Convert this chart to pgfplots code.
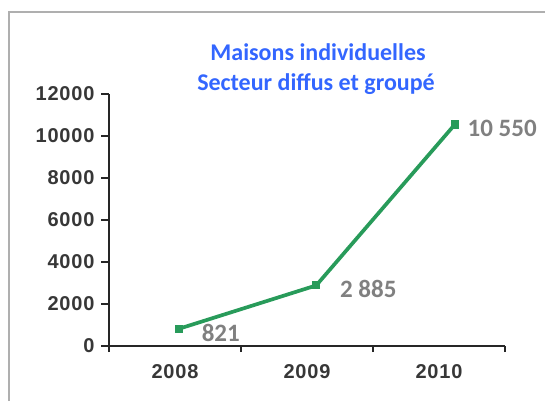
\documentclass[border=0pt]{standalone}
\usepackage{pgfplots}
\pgfplotsset{compat=1.18}
\usepackage{fontspec}
\setmainfont{Liberation Sans}
\newfontfamily\calib{Carlito}
\newfontfamily\tickfont[LetterSpace=4]{Liberation Sans}
\definecolor{titleblue}{RGB}{51,102,255}
\definecolor{linegreen}{RGB}{40,155,90}
\definecolor{labgray}{RGB}{128,128,128}
\definecolor{tickgray}{RGB}{55,55,55}
\definecolor{framegray}{RGB}{175,175,175}
\begin{document}
\begin{tikzpicture}[x=1bp,y=1bp]
\useasboundingbox (0,0) rectangle (545,401);
\draw[framegray, line width=1.2bp] (9,0) -- (9,389) -- (546,389);
\node[anchor=base, text=titleblue, font=\calib\bfseries\fontsize{24bp}{28bp}\selectfont] at (318,341) {Maisons individuelles};
\node[anchor=base, text=titleblue, font=\calib\bfseries\fontsize{24bp}{28bp}\selectfont] at (316,311) {Secteur diffus et groupé};
\begin{axis}[
  at={(109bp,55bp)}, anchor=origin,
  scale only axis, width=396bp, height=252bp,
  xmin=0, xmax=3, ymin=0, ymax=12000,
  axis lines=left, axis line style={-, black!85, line width=1.2bp},
  xtick={0.5,1.5,2.5}, xticklabels={2008,2009,2010},
  minor xtick={0,1,2,3},
  ytick={0,2000,4000,6000,8000,10000,12000},
  scaled y ticks=false,
  tick align=outside,
  major x tick style={draw=none},
  minor x tick style={black!85, line width=1.2bp},
  minor tick length=6bp,
  major y tick style={black!85, line width=1.2bp},
  major tick length=8bp,
  /pgf/number format/assume math mode=true,
  /pgf/number format/1000 sep={},
  ticklabel style={font=\tickfont\bfseries\fontsize{20bp}{23bp}\selectfont, text=tickgray},
  yticklabel style={xshift=-3bp},
  xticklabel style={yshift=-7bp},
  clip=false,
]
\addplot[linegreen, line width=3.7bp, mark=square*, mark size=2.2bp,
  mark options={solid},
  point meta=explicit symbolic,
  visualization depends on={\thisrow{dx}\as\dx},
  visualization depends on={\thisrow{dy}\as\dy},
  nodes near coords,
  nodes near coords style={anchor=west, text=labgray, font=\calib\bfseries\fontsize{25bp}{28bp}\selectfont, inner sep=0pt, xshift=\dx bp, yshift=\dy bp},
] table[x=x, y=y, meta=lab, col sep=comma] {
x,y,lab,dx,dy
0.53,821,821,21,-4
1.57,2885,2 885,22,-4
2.62,10550,10 550,11,-4
};
\end{axis}
\end{tikzpicture}
\end{document}
